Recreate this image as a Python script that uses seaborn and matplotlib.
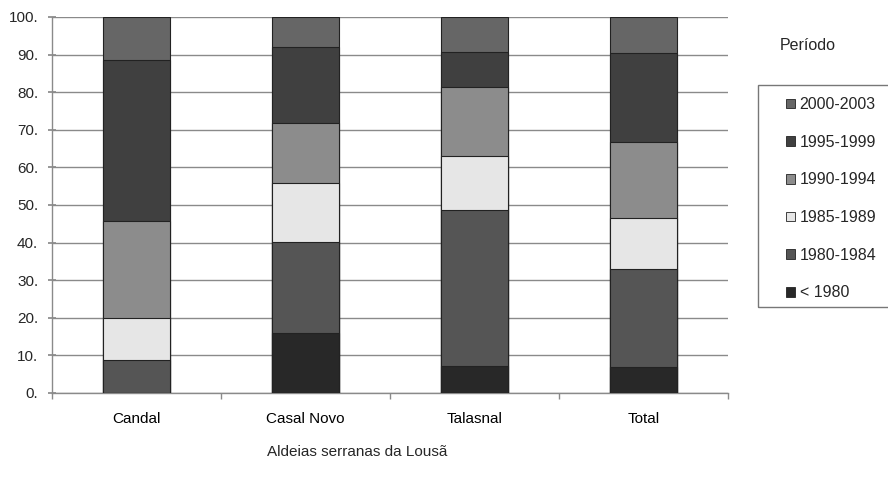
import matplotlib
matplotlib.use("Agg")
import matplotlib.pyplot as plt
import matplotlib.ticker as mticker
from matplotlib.patches import Patch, Rectangle
import seaborn as sns
import pandas as pd
import numpy as np

aldeias = ["Candal", "Casal Novo", "Talasnal", "Total"]
periodos = ["< 1980", "1980-1984", "1985-1989", "1990-1994", "1995-1999", "2000-2003"]
v_antes1980 = [0.0, 16.0, 7.1, 6.9]
v_1980_1984 = [8.8, 24.1, 41.7, 26.1]
v_1985_1989 = [11.2, 15.7, 14.1, 13.5]
v_1990_1994 = [25.7, 16.1, 18.5, 20.2]
v_1995_1999 = [42.8, 20.1, 9.2, 23.7]
v_2000_2003 = [11.5, 8.0, 9.4, 9.6]
cores = ["#282828", "#555555", "#e6e6e6", "#8c8c8c", "#404040", "#666666"]

series = [v_antes1980, v_1980_1984, v_1985_1989, v_1990_1994, v_1995_1999, v_2000_2003]

sns.set_theme(style="white")
plt.rcParams["font.family"] = ["Liberation Sans", "DejaVu Sans"]

W, H = 888, 487
fig = plt.figure(figsize=(W/100, H/100), dpi=100)
ax = fig.add_axes([52/W, 1-393/H, (728-52)/W, (393-17)/H])

cum = np.cumsum(np.array(series), axis=0)
# draw from top segment down so lower segments overlay
for i in range(len(periodos)-1, -1, -1):
    df = pd.DataFrame({"aldeia": aldeias, "valor": cum[i]})
    sns.barplot(data=df, x="aldeia", y="valor", color=cores[i], saturation=1,
                width=0.4, edgecolor="#222222", linewidth=0.8, ax=ax, zorder=3)

ax.set_ylim(0, 100)
ax.set_xlim(-0.5, 3.5)
ax.set_yticks(np.arange(0, 101, 10))
ax.yaxis.set_major_formatter(mticker.FuncFormatter(lambda v, p: f"{int(v)}."))
ax.yaxis.grid(True, color="#8a8a8a", linewidth=1.0, zorder=0)
ax.set_axisbelow(True)
ax.set_xlabel("")
ax.set_ylabel("")
ax.set_xticks(range(4))
ax.set_xticklabels(aldeias)
ax.set_xticks([-0.5, 0.5, 1.5, 2.5, 3.5], minor=True)
ax.tick_params(axis="x", which="major", length=0, pad=14, labelsize=11, colors="black")
ax.tick_params(axis="x", which="minor", length=4, color="#8a8a8a", direction="out", bottom=True)
ax.tick_params(axis="y", which="major", length=6, direction="inout", color="#8a8a8a",
               labelsize=11, pad=7, left=True)
for s in ["top", "right"]:
    ax.spines[s].set_visible(False)
for s in ["left", "bottom"]:
    ax.spines[s].set_color("#8a8a8a")
    ax.spines[s].set_linewidth(1.0)

handles = [Patch(facecolor=cores[i], edgecolor="#222222", linewidth=0.6, label=periodos[i])
           for i in range(len(periodos)-1, -1, -1)]
leg = fig.legend(handles=handles, loc="upper left", bbox_to_anchor=(786/W, 1-97/H),
                 frameon=False, fontsize=11.5, handlelength=0.55, handleheight=0.55,
                 handletextpad=0.3, labelspacing=1.42, borderpad=0, borderaxespad=0)
fig.patches.append(Rectangle((758/W, 1-307/H), (895-758)/W, (307-85)/H,
                             transform=fig.transFigure, fill=False,
                             edgecolor="#777777", linewidth=1.0))

fig.text(808/W, 1-45/H, "Período", ha="center", va="center", fontsize=11.5)
fig.text(357/W, 1-452/H, "Aldeias serranas da Lousã", ha="center", va="center", fontsize=11)

fig.savefig("out.png", dpi=100)
